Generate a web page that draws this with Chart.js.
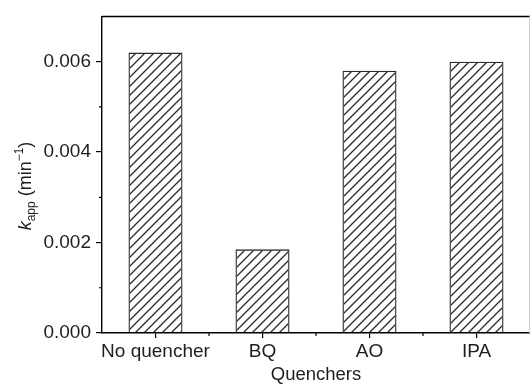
<!DOCTYPE html>
<html>
<head>
<meta charset="utf-8">
<script src="https://cdn.jsdelivr.net/npm/chart.js@4.4.0/dist/chart.umd.min.js"></script>
<style>
  html, body { margin: 0; padding: 0; background: #fff; }
  canvas { display: block; }
</style>
</head>
<body>
<canvas id="chart" width="531" height="386"></canvas>
<script>
const categories = ['No quencher', 'BQ', 'AO', 'IPA'];
const kapp = [0.0062, 0.00185, 0.0058, 0.0060];
const yTicks = [0, 0.002, 0.004, 0.006];
const yMinorTicks = [0.001, 0.003, 0.005];

const FONT = "'Liberation Sans', Arial, sans-serif";

// diagonal hatch fill for the bars
function makeHatch() {
    const s = 9;
    const c = document.createElement('canvas');
    c.width = s; c.height = s;
    const g = c.getContext('2d');
    g.strokeStyle = '#2a2a2a';
    g.lineWidth = 1.3;
    g.beginPath();
    g.moveTo(-2, s + 2); g.lineTo(s + 2, -2);
    g.moveTo(-2, 2); g.lineTo(2, -2);
    g.moveTo(s - 2, s + 2); g.lineTo(s + 2, s - 2);
    g.stroke();
    return g.createPattern(c, 'repeat');
}

const extras = {
    id: 'extras',
    afterDraw(chart) {
        const ctx = chart.ctx;
        const area = chart.chartArea;
        const x = chart.scales.x, y = chart.scales.y;
        ctx.save();
        // top frame line and faint right line
        ctx.strokeStyle = '#000';
        ctx.lineWidth = 1.5;
        ctx.beginPath();
        ctx.moveTo(area.left, area.top);
        ctx.lineTo(area.right, area.top);
        ctx.stroke();
        ctx.strokeStyle = '#cfcfcf';
        ctx.lineWidth = 1;
        ctx.beginPath();
        ctx.moveTo(area.right - 0.5, area.top);
        ctx.lineTo(area.right - 0.5, area.bottom);
        ctx.stroke();

        // minor ticks
        ctx.strokeStyle = '#000';
        ctx.lineWidth = 1.2;
        ctx.beginPath();
        yMinorTicks.forEach(v => {
            const py = y.getPixelForValue(v);
            ctx.moveTo(area.left, py);
            ctx.lineTo(area.left - 3, py);
        });
        for (let i = 0; i < categories.length - 1; i++) {
            const px = (x.getPixelForTick(i) + x.getPixelForTick(i + 1)) / 2;
            ctx.moveTo(px, area.bottom);
            ctx.lineTo(px, area.bottom + 3);
        }
        ctx.stroke();

        // y axis title: k_app (min^-1)
        ctx.translate(25, 186);
        ctx.rotate(-Math.PI / 2);
        ctx.fillStyle = '#1e1e1e';
        ctx.textBaseline = 'alphabetic';
        const parts = [
            { t: 'k', f: 'italic 18px ' + FONT, dy: 0 },
            { t: 'app', f: '12px ' + FONT, dy: 4 },
            { t: ' (min', f: '18px ' + FONT, dy: 0 },
            { t: '\u22121', f: '12px ' + FONT, dy: -8 },
            { t: ')', f: '18px ' + FONT, dy: 0 }
        ];
        let total = 0;
        parts.forEach(p => { ctx.font = p.f; total += ctx.measureText(p.t).width; });
        let cx = -total / 2;
        parts.forEach(p => {
            ctx.font = p.f;
            ctx.fillText(p.t, cx, 6 + p.dy);
            cx += ctx.measureText(p.t).width;
        });
        ctx.restore();
    }
};

new Chart(document.getElementById('chart'), {
    type: 'bar',
    data: {
        labels: categories,
        datasets: [{
            data: kapp,
            backgroundColor: makeHatch(),
            borderColor: '#2a2a2a',
            borderWidth: 1.3,
            categoryPercentage: 1,
            barPercentage: 0.505
        }]
    },
    options: {
        responsive: false,
        animation: false,
        devicePixelRatio: 1,
        layout: { padding: { top: 14, right: 1, left: 0, bottom: 0 } },
        plugins: { legend: { display: false }, tooltip: { enabled: false } },
        scales: {
            x: {
                grid: { drawOnChartArea: false, offset: false, tickLength: 5, color: '#000', lineWidth: 1.2 },
                border: { color: '#000', width: 1.4 },
                ticks: { color: '#1e1e1e', font: { family: FONT, size: 19 }, padding: 2, maxRotation: 0, autoSkip: false },
                title: { display: true, text: 'Quenchers', color: '#1e1e1e', font: { family: FONT, size: 18.5 }, padding: { top: 0, bottom: 0 } },
                afterFit(scale) { scale.height = 53; }
            },
            y: {
                min: 0,
                max: 0.007,
                grid: { drawOnChartArea: false, tickLength: 6, color: '#000', lineWidth: 1.2 },
                border: { color: '#000', width: 1.4 },
                ticks: {
                    color: '#1e1e1e',
                    font: { family: FONT, size: 19 },
                    padding: 5,
                    callback: v => v.toFixed(3)
                },
                afterBuildTicks(scale) { scale.ticks = yTicks.map(v => ({ value: v })); },
                afterFit(scale) { scale.width = 102; }
            }
        }
    },
    plugins: [extras]
});
</script>
</body>
</html>
